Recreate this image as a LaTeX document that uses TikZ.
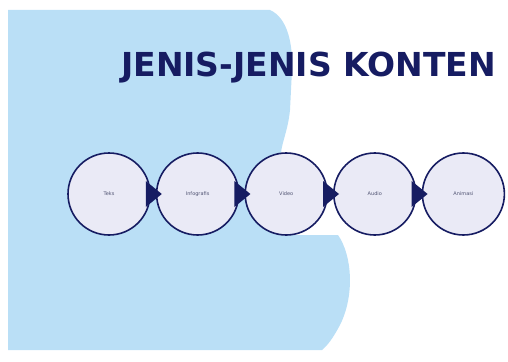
\documentclass[tikz,border=0pt]{standalone}
\usepackage{fontspec}
\setmainfont{DejaVu Sans}
\usepackage{tikz}
\usepackage{xcolor}
\usetikzlibrary{positioning}

\definecolor{skyblue}{RGB}{186,223,246}
\definecolor{navy}{RGB}{22,28,98}
\definecolor{lavender}{RGB}{234,234,246}

\tikzset{
    kind/.style={circle, draw=navy, line width=1.6pt, fill=lavender,
        minimum size=82pt, inner sep=0pt, font=\fontsize{5}{6}\selectfont,
        text=navy!45!gray},
}

\begin{document}
\begin{tikzpicture}[x=1pt, y=-1pt]
    \useasboundingbox (0,0) rectangle (508,361);

    % Blue backdrop with wavy right edge
    \fill[skyblue] (8,10) -- (270,10)
        .. controls (288,18) and (293,45) .. (292,70)
        -- (290,110)
        .. controls (288,130) and (282,142) .. (281,153)
        -- (282,235) -- (338,235)
        .. controls (352,255) and (355,295) .. (340,325)
        .. controls (333,338) and (328,345) .. (322,350)
        -- (8,350) -- cycle;

    % Title
    \node[anchor=base west, inner sep=0pt, text=navy,
        font=\fontsize{33}{36}\bfseries\selectfont] (title) at (121,77)
        {JENIS-JENIS KONTEN};

    % Chain of circles
    \node[kind] (c1) at (109,194) {Teks};
    \node[kind, right=5pt of c1] (c2) {Infografis};
    \node[kind, right=5pt of c2] (c3) {Video};
    \node[kind, right=5pt of c3] (c4) {Audio};
    \node[kind, right=5pt of c4] (c5) {Animasi};

    % Arrow tips between circles
    \foreach \a/\b in {c1/c2, c2/c3, c3/c4, c4/c5}
        \fill[navy] ([xshift=-5pt, yshift=13pt]\a.east)
            -- ([xshift=-5pt, yshift=-13pt]\a.east)
            -- ([xshift=6pt]\b.west) -- cycle;
\end{tikzpicture}
\end{document}
